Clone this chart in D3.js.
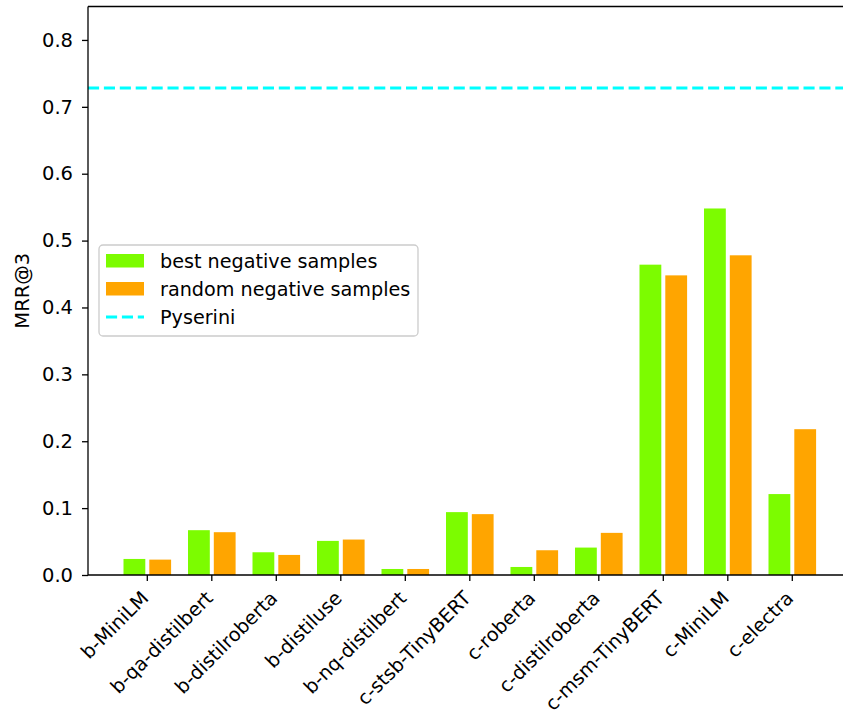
<!DOCTYPE html>
<html>
<head>
<meta charset="utf-8">
<script src="https://cdn.jsdelivr.net/npm/d3@7"></script>
<style>
  html, body { margin: 0; padding: 0; background: #fff; }
  svg { display: block; font-family: "DejaVu Sans", sans-serif; }
</style>
</head>
<body>
<svg id="chart" width="843" height="713"></svg>
<script>
// Model names (x categories)
const models = [
  "b-MiniLM", "b-qa-distilbert", "b-distilroberta", "b-distiluse",
  "b-nq-distilbert", "c-stsb-TinyBERT", "c-roberta", "c-distilroberta",
  "c-msm-TinyBERT", "c-MiniLM", "c-electra"
];
// MRR@3 with best negative samples
const bestNeg = [0.024, 0.067, 0.034, 0.051, 0.009, 0.094, 0.012, 0.041, 0.464, 0.548, 0.121];
// MRR@3 with random negative samples
const randomNeg = [0.023, 0.064, 0.030, 0.053, 0.009, 0.091, 0.037, 0.063, 0.448, 0.478, 0.218];
// Pyserini baseline
const pyserini = 0.728;
// Y axis ticks
const yTicks = [0.0, 0.1, 0.2, 0.3, 0.4, 0.5, 0.6, 0.7, 0.8];
const seriesNames = ["best negative samples", "random negative samples", "Pyserini"];
const colors = { best: "#7CFC00", random: "#FFA500", pyserini: "#00FFFF" };

const fontSize = 19.5;
const svg = d3.select("#chart");
const plotLeft = 88, plotTop = 6.5, plotBottom = 575;
const step = 64.5;
const firstTick = 147.3;

// Linear x scale over category index so the axis extends past the window edge
const x = d3.scaleLinear()
  .domain([-0.92, 10.92])
  .range([firstTick - 0.92 * step, firstTick + 10.92 * step]);
const y = d3.scaleLinear().domain([0, 0.85]).range([plotBottom, plotTop]);

const barW = 0.4;      // bar width in category units
const gap = 4;         // white gap between neighbouring bars (px)

const g = svg.append("g");

// Bars
const groups = [
  { vals: bestNeg, off: -0.2, color: colors.best },
  { vals: randomNeg, off: 0.2, color: colors.random }
];
groups.forEach(s => {
  g.selectAll(null)
    .data(s.vals)
    .enter()
    .append("rect")
    .attr("x", (d, i) => x(i + s.off - barW / 2) + gap / 2)
    .attr("width", x(barW) - x(0) - gap)
    .attr("y", d => y(d))
    .attr("height", d => y(0) - y(d))
    .attr("fill", s.color);
});

// Pyserini reference line
g.append("line")
  .attr("x1", plotLeft).attr("x2", 843)
  .attr("y1", y(pyserini)).attr("y2", y(pyserini))
  .attr("stroke", colors.pyserini)
  .attr("stroke-width", 3)
  .attr("stroke-dasharray", "11.1 4.8");

// Y axis
const yAxis = d3.axisLeft(y)
  .tickValues(yTicks)
  .tickFormat(d3.format(".1f"))
  .tickSize(6)
  .tickPadding(9);
const ya = svg.append("g").attr("transform", `translate(${plotLeft},0)`).call(yAxis);
ya.select(".domain").remove();
ya.selectAll(".tick line").attr("stroke", "#000").attr("stroke-width", 1.3);
ya.selectAll(".tick text")
  .attr("font-size", fontSize)
  .attr("font-family", "DejaVu Sans")
  .attr("fill", "#000");

// X axis ticks
const xa = svg.append("g").attr("transform", `translate(0,${plotBottom})`);
xa.selectAll("line.tick")
  .data(models)
  .enter()
  .append("line")
  .attr("x1", (d, i) => x(i)).attr("x2", (d, i) => x(i))
  .attr("y1", 0).attr("y2", 6)
  .attr("stroke", "#000").attr("stroke-width", 1.3);

// Rotated category labels
xa.selectAll("text.lab")
  .data(models)
  .enter()
  .append("text")
  .attr("class", "lab")
  .attr("transform", (d, i) => `translate(${x(i) - 8},${14}) rotate(-45)`)
  .attr("text-anchor", "end")
  .attr("dy", "0.76em")
  .attr("font-size", 19.2)
  .attr("fill", "#000")
  .text(d => d);

// Spines: left, bottom, top
svg.append("line").attr("x1", plotLeft).attr("x2", plotLeft).attr("y1", plotTop).attr("y2", plotBottom)
  .attr("stroke", "#000").attr("stroke-width", 1.3);
svg.append("line").attr("x1", plotLeft).attr("x2", 843).attr("y1", plotBottom).attr("y2", plotBottom)
  .attr("stroke", "#000").attr("stroke-width", 1.3);
svg.append("line").attr("x1", plotLeft).attr("x2", 843).attr("y1", plotTop).attr("y2", plotTop)
  .attr("stroke", "#000").attr("stroke-width", 1.3);

// Y axis title
svg.append("text")
  .attr("transform", `translate(29,${(plotTop + plotBottom) / 2}) rotate(-90)`)
  .attr("text-anchor", "middle")
  .attr("font-size", fontSize)
  .attr("fill", "#000")
  .text("MRR@3");

// Legend
const lg = svg.append("g").attr("transform", "translate(99,245)");
lg.append("rect")
  .attr("width", 319).attr("height", 91)
  .attr("rx", 4).attr("ry", 4)
  .attr("fill", "#fff").attr("fill-opacity", 0.8)
  .attr("stroke", "#cccccc").attr("stroke-width", 1.3);
const rowsY = [16, 44, 72];
lg.append("rect").attr("x", 7).attr("y", rowsY[0] - 7).attr("width", 38).attr("height", 13.5).attr("fill", colors.best);
lg.append("rect").attr("x", 7).attr("y", rowsY[1] - 7).attr("width", 38).attr("height", 13.5).attr("fill", colors.random);
lg.append("line").attr("x1", 7).attr("x2", 45).attr("y1", rowsY[2]).attr("y2", rowsY[2])
  .attr("stroke", colors.pyserini).attr("stroke-width", 3).attr("stroke-dasharray", "11.1 4.8");
lg.selectAll("text.leg")
  .data(seriesNames)
  .enter()
  .append("text")
  .attr("x", 61)
  .attr("y", (d, i) => rowsY[i])
  .attr("dy", "0.35em")
  .attr("font-size", 19.2)
  .attr("fill", "#000")
  .text(d => d);
</script>
</body>
</html>
